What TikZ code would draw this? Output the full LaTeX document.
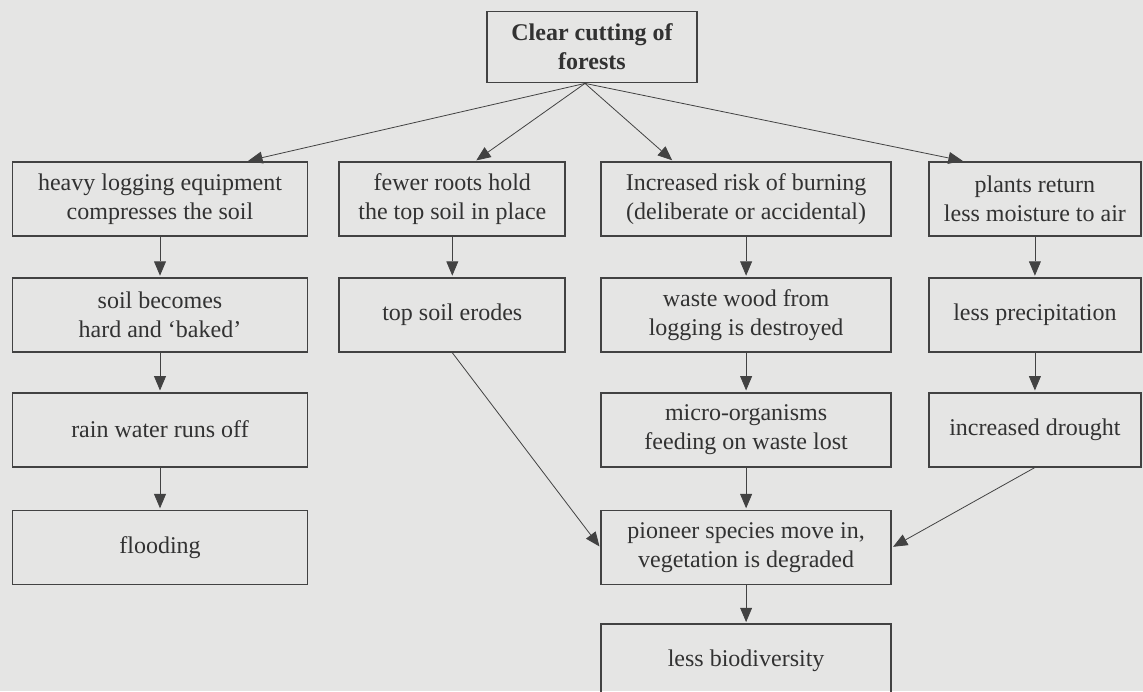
\documentclass[tikz,border=0pt]{standalone}
\usepackage{fontspec}
\setmainfont{Liberation Serif}
\usetikzlibrary{positioning,arrows.meta}
\definecolor{paper}{RGB}{229,229,228}
\definecolor{ink}{RGB}{66,66,66}
\definecolor{print}{RGB}{50,50,50}

\begin{document}
\begin{tikzpicture}[x=0.5pt,y=-0.5pt]
  \useasboundingbox (0,0) rectangle (1143,691);
  \fill [paper] (0,0) rectangle (1143,691);
  \tikzset{
    ->,
    >={Triangle[length=8pt,width=6.5pt]},
    line width=0.85pt,
    box/.style={rectangle,draw=ink,line width=0.9pt,align=center,
      font=\fontsize{12}{14.5}\selectfont,text=print,minimum height=37pt},
    head/.style={box,minimum width=105pt,minimum height=35.5pt,font=\fontsize{12}{14.5}\selectfont\bfseries},
    wide/.style={box,minimum width=147.5pt},
    mid/.style={box,minimum width=113pt},
    broad/.style={box,minimum width=145pt},
    narrow/.style={box,minimum width=106pt},
  }
  \node [head] (cut) at (592,47) {Clear cutting of\\forests};
  % first row
  \node [wide] (equip) at (160,199) {heavy logging equipment\\compresses the soil};
  \node [mid] (roots) [right=15pt of equip] {fewer roots hold\\the top soil in place};
  \node [broad] (burn) [right=17pt of roots] {Increased risk of burning\\(deliberate or accidental)};
  \node [narrow] (moist) [right=18pt of burn] {plants return\\less moisture to air};
  % second row
  \node [wide] (baked) [below=20pt of equip] {soil becomes\\hard and `baked'};
  \node [mid] (erode) [below=20pt of roots] {top soil erodes};
  \node [broad] (waste) [below=20pt of burn] {waste wood from\\logging is destroyed};
  \node [narrow] (precip) [below=20pt of moist] {less precipitation};
  % third row
  \node [wide] (runoff) [below=19.5pt of baked] {rain water runs off};
  \node [broad] (micro) [below=19.5pt of waste] {micro-organisms\\feeding on waste lost};
  \node [narrow] (drought) [below=19.5pt of precip] {increased drought};
  % bottom
  \node [wide] (flood) [below=21pt of runoff] {flooding};
  \node [broad] (pioneer) [below=21pt of micro] {pioneer species move in,\\vegetation is degraded};
  \node [broad] (biodiv) [below=19pt of pioneer] {less biodiversity};

  \path [color=ink]
  ([xshift=-3.5pt]cut.south) edge ([xshift=43.5pt]equip.north)
                             edge ([xshift=11.5pt]roots.north)
                             edge ([xshift=-36.5pt]burn.north)
                             edge ([xshift=-35.5pt]moist.north)
  (equip) edge (baked)
  (baked) edge (runoff)
  (runoff) edge (flood)
  (roots) edge (erode)
  (erode.south) edge (pioneer.west)
  (burn) edge (waste)
  (waste) edge (micro)
  (micro) edge (pioneer)
  (pioneer) edge (biodiv)
  (moist) edge (precip)
  (precip) edge (drought)
  (drought.south) edge (pioneer.east);
\end{tikzpicture}
\end{document}
